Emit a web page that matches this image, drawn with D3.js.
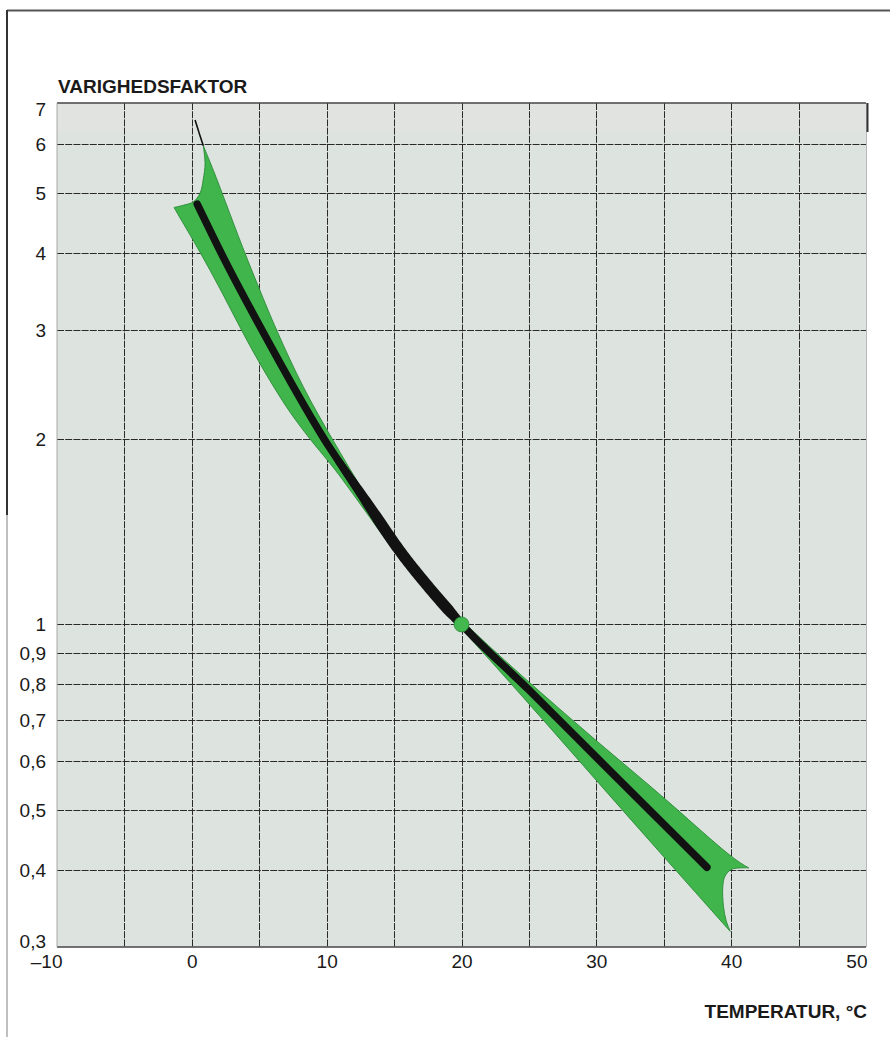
<!DOCTYPE html>
<html>
<head>
<meta charset="utf-8">
<script src="https://cdn.jsdelivr.net/npm/d3@7"></script>
<style>
  html, body { margin: 0; padding: 0; background: #ffffff; }
  svg { display: block; }
  text { font-family: "Liberation Sans", Arial, Helvetica, sans-serif; fill: #1a1a1a; }
</style>
</head>
<body>
<script>
// ---------- data ----------
const yTicks = [0.3, 0.4, 0.5, 0.6, 0.7, 0.8, 0.9, 1, 2, 3, 4, 5, 6, 7];
const yTickLabels = ["0,3", "0,4", "0,5", "0,6", "0,7", "0,8", "0,9", "1", "2", "3", "4", "5", "6", "7"];
const xTicks = [-10, 0, 10, 20, 30, 40, 50];
const xTickLabels = ["\u201310", "0", "10", "20", "30", "40", "50"];
const xGrid = [-5, 0, 5, 10, 15, 20, 25, 30, 35, 40, 45];

// central curve (temperature °C, duration factor)
const centerLine = [[0.4, 4.8], [2.3, 3.95], [5.2, 3.0], [9.8, 2.0], [12.7, 1.61], [15.6, 1.30],
                    [17.7, 1.14], [20, 1.0], [25, 0.783], [30.3, 0.60], [38.2, 0.404]];
// thin extension above the band
const thinTip = [[0.24, 6.57], [0.55, 6.25], [0.85, 5.97]];
// uncertainty band edges
const bandUpper = [[0.85, 5.97], [1.6, 5.45], [2.4, 4.9], [3.8, 4.06], [5.0, 3.5], [6.2, 3.02],
                   [8.3, 2.4], [10.4, 2.0], [12.7, 1.64], [15.6, 1.315], [17.7, 1.15], [20, 1.012],
                   [25, 0.805], [31, 0.62], [35, 0.525], [39.9, 0.42], [41.3, 0.403]];
const bandRightNotch = [[41.3, 0.403], [40.05, 0.401], [39.55, 0.391], [39.38, 0.376],
                        [39.43, 0.349], [39.63, 0.331], [39.93, 0.318]];
const bandLower = [[-1.32, 4.74], [-0.88, 4.56], [0.6, 4.02], [2.1, 3.5], [3.4, 3.08], [4.6, 2.75],
                   [5.8, 2.48], [7.0, 2.25], [8.2, 2.07], [9.3, 1.93], [10.5, 1.80], [12.7, 1.545],
                   [15.8, 1.24], [18, 1.095], [20, 0.985], [25.1, 0.74], [30.3, 0.549],
                   [35, 0.42], [39.93, 0.318]];
const bandLeftNotch = [[-1.32, 4.74], [-0.63, 4.78], [0.11, 4.84], [0.61, 5.0], [0.85, 5.27],
                       [0.98, 5.58], [0.85, 5.97]];
const refPoint = [[20, 1]];

// ---------- layout ----------
const W = 890, H = 1037;
const L = 57, R = 866, T = 103, B = 947;

const svg = d3.select("body").append("svg").attr("width", W).attr("height", H);

const x = d3.scaleLinear().domain([-10, 50]).range([L, R]);
const y = d3.scaleLog().domain([0.3, 7]).range([B, T]);

// page frame
svg.append("line").attr("x1", 7).attr("x2", W).attr("y1", 10.5).attr("y2", 10.5)
  .attr("stroke", "#555").attr("stroke-width", 2);
svg.append("line").attr("x1", 7).attr("x2", 7).attr("y1", 10).attr("y2", 515)
  .attr("stroke", "#333").attr("stroke-width", 2);
svg.append("line").attr("x1", 7).attr("x2", 7).attr("y1", 515).attr("y2", H)
  .attr("stroke", "#aaa").attr("stroke-width", 1.5);

// plot background
svg.append("rect").attr("x", L).attr("y", T).attr("width", R - L).attr("height", B - T)
  .attr("fill", "#dde3df");
svg.append("rect").attr("x", L).attr("y", T).attr("width", R - L).attr("height", 29)
  .attr("fill", "#e1e3e1");

// grid
const grid = svg.append("g").attr("stroke", "#2a2a2a").attr("stroke-width", 1)
  .attr("stroke-dasharray", "7,1.2");
grid.selectAll("line.h").data(yTicks.filter(d => d > 0.3 && d < 7)).join("line")
  .attr("class", "h")
  .attr("x1", L).attr("x2", R)
  .attr("y1", d => Math.round(y(d)) + 0.5).attr("y2", d => Math.round(y(d)) + 0.5);
grid.selectAll("line.v").data(xGrid).join("line")
  .attr("class", "v")
  .attr("x1", d => Math.round(x(d)) + 0.5).attr("x2", d => Math.round(x(d)) + 0.5)
  .attr("y1", T).attr("y2", B);

// plot borders
svg.append("line").attr("x1", L).attr("x2", R).attr("y1", T).attr("y2", T)
  .attr("stroke", "#444").attr("stroke-width", 1.5);
svg.append("line").attr("x1", L).attr("x2", R).attr("y1", B).attr("y2", B)
  .attr("stroke", "#444").attr("stroke-width", 1.5);
svg.append("line").attr("x1", L).attr("x2", L).attr("y1", T).attr("y2", B)
  .attr("stroke", "#a8a8a8").attr("stroke-width", 1);
svg.append("line").attr("x1", R + 0.5).attr("x2", R + 0.5).attr("y1", T).attr("y2", B)
  .attr("stroke", "#b8b8b8").attr("stroke-width", 1);
svg.append("line").attr("x1", R + 1.5).attr("x2", R + 1.5).attr("y1", T).attr("y2", T + 29)
  .attr("stroke", "#333").attr("stroke-width", 2);

// band
const edge = d3.line().x(d => x(d[0])).y(d => y(d[1])).curve(d3.curveBasis);
const notch = d3.line().x(d => x(d[0])).y(d => y(d[1])).curve(d3.curveCatmullRom.alpha(0.5));
function joinSegments(parts) {
  return parts.map((p, i) => {
    const s = p[0](p[1]);
    return i === 0 ? s : s.replace(/^M[^A-Za-z]*/, "");
  }).join("") + "Z";
}
const bandPath = joinSegments([
  [edge, bandUpper],
  [notch, bandRightNotch],
  [edge, bandLower.slice().reverse()],
  [notch, bandLeftNotch]
]);
svg.append("path").attr("d", bandPath)
  .attr("fill", "#3fb54c").attr("stroke", "#2b8a37").attr("stroke-width", 0.9);

// thin tip line
svg.append("path").attr("d", notch(thinTip))
  .attr("fill", "none").attr("stroke", "#111").attr("stroke-width", 1.6);

// central curve
const centerGen = d3.line().x(d => x(d[0])).y(d => y(d[1])).curve(d3.curveMonotoneX);
const centerPath = svg.append("path").attr("d", centerGen(centerLine))
  .attr("fill", "none").attr("stroke", "#121212").attr("stroke-width", 7.5)
  .attr("stroke-linecap", "round");

// widened dark section (tapered ribbon along the central curve)
(function () {
  const node = centerPath.node();
  const total = node.getTotalLength();
  const halfW = xv => {
    if (xv < 11 || xv > 20.3) return 3.75;
    if (xv < 14) return 3.75 + (xv - 11) / 3 * 1.9;
    if (xv < 19) return 5.65;
    return 5.65 - (xv - 19) / 1.3 * 1.9;
  };
  const left = [], right = [];
  for (let s = 0; s <= total; s += 1.5) {
    const p = node.getPointAtLength(s);
    const xv = x.invert(p.x);
    if (xv < 10.8 || xv > 20.4) continue;
    const p2 = node.getPointAtLength(Math.min(total, s + 0.5));
    const p1 = node.getPointAtLength(Math.max(0, s - 0.5));
    const dx = p2.x - p1.x, dy = p2.y - p1.y, len = Math.hypot(dx, dy) || 1;
    const nx = -dy / len, ny = dx / len, h = halfW(xv);
    left.push([p.x + nx * h, p.y + ny * h]);
    right.push([p.x - nx * h, p.y - ny * h]);
  }
  svg.append("path")
    .attr("d", d3.line()(left.concat(right.reverse())) + "Z")
    .attr("fill", "#121212");
})();

// reference point
svg.selectAll("circle.ref").data(refPoint).join("circle")
  .attr("class", "ref")
  .attr("cx", d => x(d[0])).attr("cy", d => y(d[1])).attr("r", 7.5)
  .attr("fill", "#42b84f").attr("stroke", "#2b8a37").attr("stroke-width", 0.8);

// axes
const yAxis = svg.append("g").attr("transform", `translate(${L},0)`)
  .call(d3.axisLeft(y).tickValues(yTicks).tickFormat((d, i) => yTickLabels[i])
    .tickSize(0).tickPadding(11));
yAxis.select(".domain").remove();
yAxis.selectAll("text").attr("font-size", 19).attr("fill", "#1a1a1a")
  .attr("font-family", "'Liberation Sans', Arial, sans-serif")
  .attr("dy", (d) => d === 7 ? "0.66em" : (d === 0.3 ? "0.0em" : "0.34em"));

const xAxis = svg.append("g").attr("transform", `translate(0,${B})`)
  .call(d3.axisBottom(x).tickValues(xTicks).tickFormat((d, i) => xTickLabels[i])
    .tickSize(0).tickPadding(8));
xAxis.select(".domain").remove();
xAxis.selectAll("text").attr("font-size", 19).attr("fill", "#1a1a1a")
  .attr("font-family", "'Liberation Sans', Arial, sans-serif")
  .attr("text-anchor", d => (d === -10 || d === 50) ? "end" : "middle")
  .attr("x", d => d === -10 ? 5 : (d === 50 ? 1 : 0));

// titles
svg.append("text").attr("x", 58).attr("y", 93)
  .attr("font-size", 19).attr("font-weight", "bold").text("VARIGHEDSFAKTOR");
svg.append("text").attr("x", 867).attr("y", 1018).attr("text-anchor", "end")
  .attr("font-size", 19).attr("font-weight", "bold").text("TEMPERATUR, °C");
</script>
</body>
</html>
